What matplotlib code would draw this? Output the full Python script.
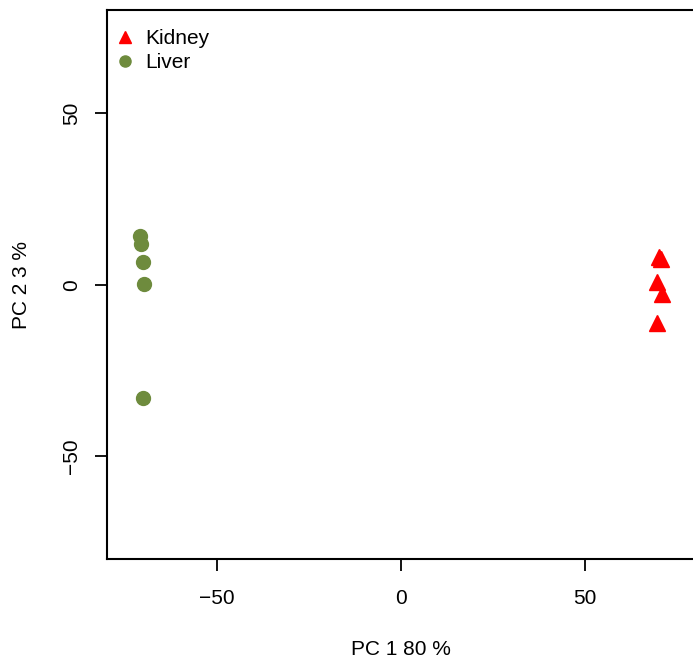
import matplotlib
matplotlib.use('Agg')
import matplotlib.pyplot as plt

plt.rcParams['font.family'] = ['Liberation Sans', 'DejaVu Sans']

# PCA scores
kidney_pc1 = [70.2, 70.8, 69.5, 71.0, 69.7]
kidney_pc2 = [8.2, 7.5, 0.9, -2.7, -11.2]
liver_pc1 = [-71.0, -70.7, -70.2, -69.9, -70.2]
liver_pc2 = [14.3, 12.0, 6.7, 0.3, -33.0]

xticks = [-50, 0, 50]
yticks = [-50, 0, 50]

fig = plt.figure(figsize=(6.93, 6.63), dpi=100)
ax = fig.add_axes([0.1537, 0.1569, 0.8496, 0.8273])

ax.plot(kidney_pc1, kidney_pc2, linestyle='none', marker='^', markersize=11.5,
        color='red', label='Kidney')
ax.plot(liver_pc1, liver_pc2, linestyle='none', marker='o', markersize=10,
        color='#6E8B3D', label='Liver')

ax.set_xlim(-80, 80)
ax.set_ylim(-80, 80)
ax.set_xticks(xticks)
ax.set_yticks(yticks)
ax.set_xticklabels(['\u221250', '0', '50'])
ax.set_yticklabels(['\u221250', '0', '50'], rotation=90, va='center')
ax.tick_params(length=8.5, width=1.3, labelsize=15)
ax.tick_params(axis='x', pad=13)
ax.tick_params(axis='y', pad=10)
for s in ax.spines.values():
    s.set_linewidth(1.5)
ax.spines['right'].set_visible(False)

ax.set_xlabel('PC 1 80 %', fontsize=15, labelpad=23.5)
ax.set_ylabel('PC 2 3 %', fontsize=15, labelpad=22.5)

leg = ax.legend(loc='upper left', frameon=False, fontsize=15, markerscale=0.8,
                handlelength=0.7, handletextpad=0.6, labelspacing=0.25,
                borderaxespad=0.5, bbox_to_anchor=(-0.012, 1.0))

fig.savefig('out.png', dpi=100)
